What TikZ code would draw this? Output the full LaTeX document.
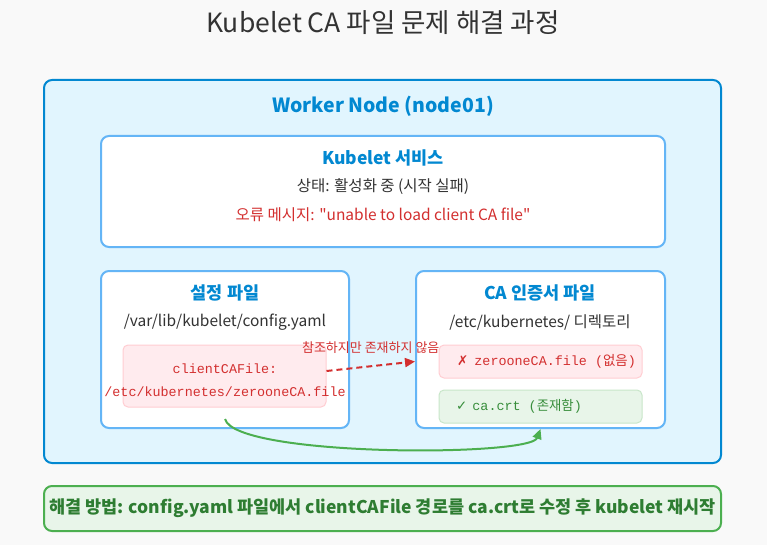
\documentclass[tikz,border=0pt]{standalone}
\usepackage{fontspec}
\setmainfont{Noto Sans CJK KR}[Ligatures=TeXOff]
\setmonofont{Liberation Mono}
\newfontfamily\symfont{DejaVu Sans}
\usepackage{xcolor}
\usetikzlibrary{arrows.meta, positioning}

\definecolor{pagebg}{HTML}{F9F9F9}
\definecolor{titlegray}{HTML}{333333}
\definecolor{nodeblue}{HTML}{0288D1}
\definecolor{nodefill}{HTML}{E1F5FE}
\definecolor{panelblue}{HTML}{64B5F6}
\definecolor{errred}{HTML}{D32F2F}
\definecolor{errfill}{HTML}{FFEBEE}
\definecolor{errline}{HTML}{FFCDD2}
\definecolor{okgreen}{HTML}{388E3C}
\definecolor{okfill}{HTML}{E8F5E9}
\definecolor{okline}{HTML}{C8E6C9}
\definecolor{fixgreen}{HTML}{4CAF50}
\definecolor{fixtext}{HTML}{2E7D32}

\begin{document}
\begin{tikzpicture}[
    x=1pt, y=-1pt,
    panel/.style={rectangle, rounded corners=8pt, draw=panelblue,
                  line width=2pt, fill=white, inner sep=0pt},
    note/.style={rectangle, rounded corners=5pt, line width=1pt, inner sep=0pt},
    badnote/.style={note, fill=errfill, draw=errline},
    goodnote/.style={note, fill=okfill, draw=okline},
    lbl/.style={inner sep=0pt, font=\fontsize{15.5}{17}\selectfont, text=titlegray},
    head/.style={inner sep=0pt, font=\fontsize{17.5}{19}\selectfont\bfseries, text=nodeblue},
    mono/.style={inner sep=0pt, font=\fontsize{13.4}{15}\ttfamily},
    arr/.style={-{Triangle[length=10pt, width=9pt]}, line width=2pt},
  ]
    \fill[pagebg] (0,0) rectangle (767,545);
    \useasboundingbox (0,0) rectangle (767,545);

    \node[lbl, font=\fontsize{26.5}{30}\selectfont] (title) at (383,23) {Kubelet CA 파일 문제 해결 과정};

    % worker node
    \node[rectangle, rounded corners=8pt, draw=nodeblue, line width=2pt, fill=nodefill,
          minimum width=677pt, minimum height=383pt] (worker) at (382.5,271.5) {};
    \node[head, font=\fontsize{19.5}{21}\selectfont\bfseries] (workerlbl) at (383,106) {Worker Node (node01)};

    % kubelet
    \node[panel, minimum width=564pt, minimum height=111pt] (kubelet) at (383,191.5) {};
    \node[head] (kubeletlbl) at (383,158) {Kubelet 서비스};
    \node[lbl] (status) at (383,187) {상태: 활성화 중 (시작 실패)};
    \node[lbl, text=errred] (errmsg) at (383,215) {오류 메시지: "unable to load client CA file"};

    % config file
    \node[panel, minimum width=248pt, minimum height=157pt] (cfgbox) at (225,349.5) {};
    \node[head] (cfglbl) at (225,293) {설정 파일};
    \node[lbl] (cfgpath) at (225,322) {/var/lib/kubelet/config.yaml};
    \node[badnote, minimum width=203pt, minimum height=62pt] (cfgnote) at (224.5,376) {};
    \node[mono, text=errred] (cfgkey) at (225,369) {clientCAFile:};
    \node[mono, text=errred] (cfgval) at (225,392) {/etc/kubernetes/zerooneCA.file};

    % CA files
    \node[panel, minimum width=249pt, minimum height=157pt] (cabox) at (540.5,349.5) {};
    \node[head] (calbl) at (540,293) {CA 인증서 파일};
    \node[lbl] (cadir) at (540,322) {/etc/kubernetes/ 디렉토리};
    \node[badnote, minimum width=203pt, minimum height=33pt] (missing) at (540.5,361.5) {};
    \node[mono, text=errred, anchor=west] at (457,361.5)
        {{\symfont\bfseries ✗}\hspace{6pt}zerooneCA.file ({\rmfamily 없음})};
    \node[goodnote, minimum width=203pt, minimum height=33pt] (present) at (540.5,406.5) {};
    \node[mono, text=okgreen, anchor=west] at (456,406.5)
        {{\symfont ✓}\hspace{5pt}ca.crt ({\rmfamily 존재함})};

    \draw[arr, errred, dash pattern=on 6pt off 4pt] ([yshift=5pt]cfgnote.east) --
        node[midway, above=12pt, inner sep=0pt, font=\fontsize{13}{15}\selectfont, text=errred]{참조하지만 존재하지 않음}
        (cabox.west |- missing.west);
    \draw[arr, fixgreen] ([yshift=10pt]cfgbox.south) .. controls (235,457) and (530,457) .. (cabox.south);

    % fix
    \node[rectangle, rounded corners=8pt, draw=fixgreen, line width=2pt, fill=okfill,
          minimum width=677pt, minimum height=45pt] (fix) at (382.5,508.5) {};
    \node[inner sep=0pt, font=\fontsize{17.5}{19}\selectfont\bfseries, text=fixtext] (fixlbl) at (382.5,508.5)
        {해결 방법: config.yaml 파일에서 clientCAFile 경로를 ca.crt로 수정 후 kubelet 재시작};
\end{tikzpicture}
\end{document}
